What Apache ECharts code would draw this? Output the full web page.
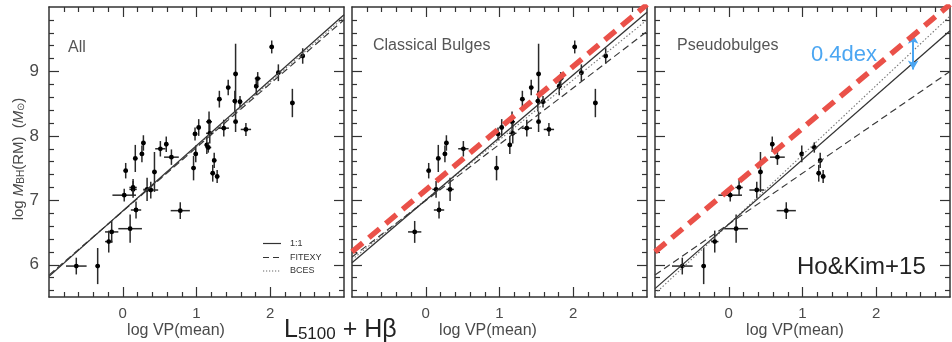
<!DOCTYPE html>
<html><head><meta charset="utf-8">
<script src="https://cdn.jsdelivr.net/npm/echarts@6/dist/echarts.min.js"></script>
<style>html,body{margin:0;padding:0;background:#fff}#c{width:952px;height:342px}</style>
</head><body><div id="c"></div>
<script>
// ---------- DATA ----------
const classicalX    = [-0.15, 0.04, 0.14, 0.17, 0.18, 0.26, 0.28, 0.33, 0.51, 0.96, 0.98, 1.03, 1.14, 1.17, 1.18, 1.31, 1.37, 1.43, 1.53, 1.52, 1.53, 1.59, 1.67, 1.81, 1.83, 2.02, 2.11, 2.30, 2.44];
const classicalY    = [6.51, 7.46, 7.17, 7.65, 6.85, 7.72, 7.89, 7.17, 7.80, 7.50, 8.03, 8.13, 7.86, 8.22, 8.04, 8.57, 8.12, 8.75, 8.96, 8.54, 8.22, 8.53, 8.10, 8.77, 8.89, 9.38, 8.98, 8.51, 9.24];
const classicalXErr = [0.09, 0.03, 0.05, 0.03, 0.07, 0.03, 0.03, 0.05, 0.07, 0.03, 0.03, 0.03, 0.03, 0.04, 0.05, 0.03, 0.07, 0.03, 0.03, 0.03, 0.03, 0.03, 0.07, 0.03, 0.04, 0.03, 0.03, 0.03, 0.03];
const classicalYErr = [0.17, 0.12, 0.13, 0.21, 0.13, 0.13, 0.12, 0.18, 0.12, 0.19, 0.10, 0.13, 0.14, 0.16, 0.16, 0.13, 0.13, 0.12, 0.47, 0.16, 0.16, 0.09, 0.10, 0.14, 0.10, 0.10, 0.13, 0.22, 0.12];

const pseudoX    = [-0.63, -0.34, -0.19, 0.02, 0.14, 0.10, 0.38, 0.43, 0.59, 0.66, 0.78, 0.99, 1.16, 1.24, 1.22, 1.28];
const pseudoY    = [5.98, 5.98, 6.36, 7.08, 7.20, 6.56, 7.16, 7.44, 7.87, 7.67, 6.84, 7.72, 7.82, 7.62, 7.42, 7.37];
const pseudoXErr = [0.14, 0.03, 0.05, 0.16, 0.05, 0.16, 0.10, 0.03, 0.03, 0.10, 0.13, 0.03, 0.04, 0.03, 0.03, 0.03];
const pseudoYErr = [0.13, 0.28, 0.17, 0.10, 0.13, 0.22, 0.13, 0.31, 0.12, 0.12, 0.13, 0.13, 0.08, 0.12, 0.13, 0.10];

// fit lines (end points)
const allSolid    = [[-1, 5.82], [3, 9.88]];
const allDashed   = [[-1, 5.84], [3, 9.80]];
const allDotted   = [[-1, 5.83], [3, 9.84]];
const clasSolid   = [[-1, 6.03], [3, 9.92]];
const clasDashed  = [[-1, 6.12], [3, 9.62]];
const clasDotted  = [[-1, 6.08], [3, 9.80]];
const pseuSolid   = [[-1, 5.63], [3, 9.63]];
const pseuDashed  = [[-1, 5.84], [3, 9.00]];
const pseuDotted  = [[-1, 5.55], [3, 9.86]];
const redLine     = [[-1, 6.20], [3, 10.04]];
const offsetArrow = [[2.5, 9.57], [2.5, 9.03]];

// ticks
const xMajorTicks = [0, 1, 2];
const xMinorTicks = [-0.8, -0.6, -0.4, -0.2, 0.2, 0.4, 0.6, 0.8, 1.2, 1.4, 1.6, 1.8, 2.2, 2.4, 2.6, 2.8];
const yMajorTicks = [6, 7, 8, 9];
const yMinorTicks = [5.6, 5.8, 6.2, 6.4, 6.6, 6.8, 7.2, 7.4, 7.6, 7.8, 8.2, 8.4, 8.6, 8.8, 9.2, 9.4, 9.6, 9.8];
const xTickLabels = [0, 1, 2];
const yTickLabels = [6, 7, 8, 9];
const panelTitles = ['All', 'Classical Bulges', 'Pseudobulges'];
const legendNames = ['1:1', 'FITEXY', 'BCES'];

// ---------- CHART ----------
const FRAME = '#333';
const TXT = '#4a4a4a';
const RED = '#ea5149';
const BLUE = '#4ba6f2';
const FONT = '"Liberation Sans", Arial, sans-serif';
const lefts = [49, 352, 655];

const grids = [], xAxes = [], yAxes = [], series = [];

function mkAxis(dim, p, pos, major, showLabel) {
  const isX = dim === 'x';
  const a = {
    gridIndex: p, type: 'value', position: pos,
    min: isX ? -1 : 5.5, max: isX ? 3 : 10,
    splitLine: { show: false },
    axisLine: { show: major, onZero: false, lineStyle: { color: FRAME, width: 1.5 } },
    axisTick: { show: true, inside: true, length: major ? 10 : 5,
      customValues: isX ? (major ? xMajorTicks : xMinorTicks) : (major ? yMajorTicks : yMinorTicks),
      lineStyle: { color: FRAME, width: 1.2 } },
    axisLabel: { show: false }
  };
  if (showLabel) {
    a.axisLabel = { show: true, customValues: isX ? xTickLabels : yTickLabels,
      color: TXT, fontFamily: FONT, fontSize: isX ? 15 : 17, margin: isX ? 9 : 10 };
  }
  return a;
}

function errSeries(p, xs, ys, exs, eys) {
  return {
    type: 'custom', xAxisIndex: 4 * p, yAxisIndex: 4 * p, clip: true,
    dimensions: ['x', 'y', 'ex', 'ey'], encode: { x: 0, y: 1 },
    data: xs.map((x, i) => [x, ys[i], exs[i], eys[i]]),
    renderItem: function (params, api) {
      const x = api.value(0), y = api.value(1), ex = api.value(2), ey = api.value(3);
      const c = api.coord([x, y]);
      const l = api.coord([x - ex, y]), r = api.coord([x + ex, y]);
      const t = api.coord([x, y + ey]), b = api.coord([x, y - ey]);
      const st = { stroke: '#2a2a2a', lineWidth: 1.5 };
      return { type: 'group', children: [
        { type: 'line', shape: { x1: l[0], y1: l[1], x2: r[0], y2: r[1] }, style: st },
        { type: 'line', shape: { x1: t[0], y1: t[1], x2: b[0], y2: b[1] }, style: st },
        { type: 'circle', shape: { cx: c[0], cy: c[1], r: 2.4 }, style: { fill: '#000' } }
      ] };
    }
  };
}

function lineSeries(p, data, kind, extra) {
  let ls;
  if (kind === 'solid') ls = { color: '#333', width: 1.3, type: 'solid' };
  else if (kind === 'dashed') ls = { color: '#3a3a3a', width: 1.2, type: [7, 4] };
  else if (kind === 'dotted') ls = { color: '#777', width: 1.1, type: [1.5, 2] };
  else ls = { color: RED, width: 5.5, type: [14, 8] };
  return Object.assign({
    type: 'line', xAxisIndex: 4 * p, yAxisIndex: 4 * p, data: data,
    showSymbol: false, symbol: 'none', lineStyle: ls, silent: true, clip: true, z: kind === 'red' ? 5 : 3
  }, extra || {});
}

for (let p = 0; p < 3; p++) {
  grids.push({ left: lefts[p], top: 7, width: 295, height: 290, containLabel: false });
  xAxes.push(mkAxis('x', p, 'bottom', true, true));
  xAxes.push(mkAxis('x', p, 'bottom', false, false));
  xAxes.push(mkAxis('x', p, 'top', true, false));
  xAxes.push(mkAxis('x', p, 'top', false, false));
  yAxes.push(mkAxis('y', p, 'left', true, p === 0));
  yAxes.push(mkAxis('y', p, 'left', false, false));
  yAxes.push(mkAxis('y', p, 'right', true, false));
  yAxes.push(mkAxis('y', p, 'right', false, false));
}

// panel 1: all
series.push(lineSeries(0, allDotted, 'dotted'));
series.push(lineSeries(0, allDashed, 'dashed'));
series.push(lineSeries(0, allSolid, 'solid'));
series.push(errSeries(0, classicalX, classicalY, classicalXErr, classicalYErr));
series.push(errSeries(0, pseudoX, pseudoY, pseudoXErr, pseudoYErr));
// panel 2: classical
series.push(lineSeries(1, clasDotted, 'dotted'));
series.push(lineSeries(1, clasDashed, 'dashed'));
series.push(lineSeries(1, clasSolid, 'solid'));
series.push(errSeries(1, classicalX, classicalY, classicalXErr, classicalYErr));
series.push(lineSeries(1, redLine, 'red'));
// panel 3: pseudo
series.push(lineSeries(2, pseuDotted, 'dotted'));
series.push(lineSeries(2, pseuDashed, 'dashed'));
series.push(lineSeries(2, pseuSolid, 'solid', {
  markLine: { silent: true, symbol: ['arrow', 'arrow'], symbolSize: [8, 9],
    lineStyle: { color: BLUE, width: 2, type: 'solid' }, label: { show: false },
    data: [[{ coord: offsetArrow[0] }, { coord: offsetArrow[1] }]] }
}));
series.push(errSeries(2, pseudoX, pseudoY, pseudoXErr, pseudoYErr));
series.push(lineSeries(2, redLine, 'red'));

// ---------- TEXT ----------
const graphic = [];
// y axis title
graphic.push({ type: 'text', x: 17, y: 159, rotation: Math.PI / 2, z: 10,
  style: { text: '{n|log }{i|M}{s|BH}{n|(RM)  (}{i|M}{s|⊙}{n|)}', align: 'center', verticalAlign: 'middle',
    rich: {
      n: { fontSize: 15, fontFamily: FONT, fill: TXT, verticalAlign: 'bottom', lineHeight: 19 },
      i: { fontSize: 15, fontFamily: FONT, fontStyle: 'italic', fill: TXT, verticalAlign: 'bottom', lineHeight: 19 },
      s: { fontSize: 10, fontFamily: FONT, fill: TXT, verticalAlign: 'bottom', lineHeight: 10 }
    } } });
// x axis titles
[176, 488, 795].forEach(function (cx) {
  graphic.push({ type: 'text', x: cx, y: 331, z: 10,
    style: { text: 'log VP(mean)', align: 'center', verticalAlign: 'middle', fontSize: 16, fontFamily: FONT, fill: TXT } });
});
// panel titles
[[68, 48], [373, 46], [677, 46]].forEach(function (pos, i) {
  graphic.push({ type: 'text', x: pos[0], y: pos[1], z: 10,
    style: { text: panelTitles[i], align: 'left', verticalAlign: 'middle', fontSize: 16, fontFamily: FONT, fill: '#555' } });
});
// legend
const legendY = [243.5, 257.5, 271];
const legendDash = [null, [6, 4], [1.2, 1.8]];
legendNames.forEach(function (name, i) {
  graphic.push({ type: 'line', z: 10, shape: { x1: 263, y1: legendY[i], x2: 281, y2: legendY[i] },
    style: { stroke: i === 2 ? '#666' : '#333', lineWidth: 1.2, lineDash: legendDash[i] } });
  graphic.push({ type: 'text', z: 10, x: 290, y: legendY[i],
    style: { text: name, align: 'left', verticalAlign: 'middle', fontSize: 9, fontFamily: FONT, fill: '#333' } });
});
// L5100 + Hβ
graphic.push({ type: 'text', x: 284, y: 343, z: 10,
  style: { text: '{a|L}{b|5100}{a| + Hβ}', align: 'left', verticalAlign: 'bottom',
    rich: {
      a: { fontSize: 25, fontFamily: FONT, fill: '#222', verticalAlign: 'bottom', lineHeight: 25 },
      b: { fontSize: 17, fontFamily: FONT, fill: '#222', verticalAlign: 'bottom', lineHeight: 17 }
    } } });
// 0.4dex
graphic.push({ type: 'text', x: 811, y: 55, z: 10,
  style: { text: '0.4dex', align: 'left', verticalAlign: 'middle', fontSize: 22, fontFamily: FONT, fill: BLUE } });
// Ho&Kim+15
graphic.push({ type: 'text', x: 797, y: 267, z: 10,
  style: { text: 'Ho&Kim+15', align: 'left', verticalAlign: 'middle', fontSize: 24, fontFamily: FONT, fill: '#222' } });

const chart = echarts.init(document.getElementById('c'), null, { renderer: 'canvas' });
chart.setOption({
  animation: false,
  backgroundColor: '#fff',
  grid: grids, xAxis: xAxes, yAxis: yAxes, series: series, graphic: graphic
});
</script>
</body></html>
